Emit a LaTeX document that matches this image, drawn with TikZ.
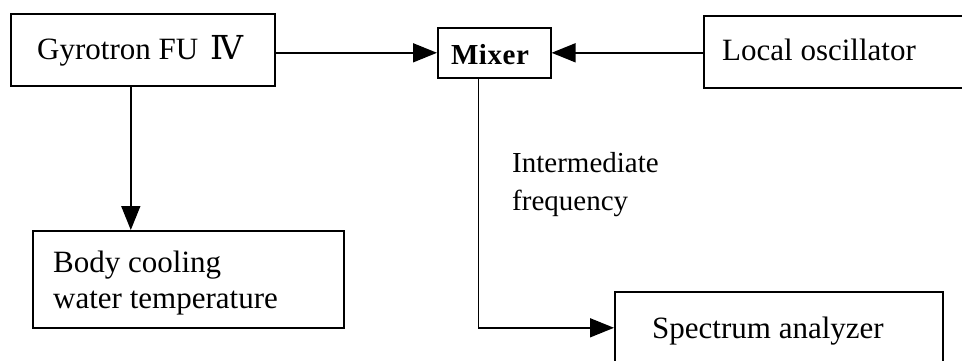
\documentclass[tikz,border=0pt]{standalone}
\usepackage{fontspec}
\setmainfont{Liberation Serif}
\newfontfamily\numeralfont{DejaVu Serif}
\usetikzlibrary{arrows.meta,positioning}

\tikzset{
  blockbox/.style={draw, line width=1.6pt, anchor=north west, inner sep=0pt},
  flow/.style={line width=1.6pt, -{Triangle[length=24pt,width=19pt]}},
  lbl/.style={inner sep=0pt, anchor=base west, font=\fontsize{31}{36}\selectfont},
  iflbl/.style={inner sep=0pt, anchor=base west, font=\fontsize{29}{36}\selectfont}
}

\begin{document}
\begin{tikzpicture}[x=1pt, y=-1pt]
  \useasboundingbox (0,0) rectangle (962,360);

  % blocks (width x height given in pt)
  \node[blockbox, minimum width=264pt, minimum height=72pt] (gyro) at (10,13) {};
  \node[lbl] (gyrotxt) at (37,59)
    {Gyrotron FU\hspace{12pt}{\numeralfont\fontsize{33}{36}\selectfont Ⅳ}};

  \node[blockbox, minimum width=113pt, minimum height=50pt] (mixer) at (437,27) {};
  \node[anchor=base, inner sep=0pt, font=\fontsize{29}{32}\selectfont]
    (mixertxt) at (490,64) {\addfontfeature{LetterSpace=2}\bfseries Mixer};

  \node[blockbox, minimum width=280pt, minimum height=72pt] (lo) at (703,15) {};
  \node[lbl] (lotxt) at (722,60) {Local oscillator};

  \node[blockbox, minimum width=311pt, minimum height=97pt] (body) at (32,230) {};
  \node[lbl] (bodytxt1) at (53,272) {Body cooling};
  \node[lbl] (bodytxt2) at (53,308) {water temperature};

  \node[blockbox, minimum width=328pt, minimum height=70pt] (spec) at (614,291) {};
  \node[lbl] (spectxt) at (652,338) {Spectrum analyzer};

  % signal label beside the mixer output
  \node[iflbl] (iftxt1) at (512,172) {Intermediate};
  \node[iflbl] (iftxt2) at (512,210) {frequency};

  % connectors
  \draw[flow] (gyro.east |- mixer.west) -- (mixer.west);
  \draw[flow] (lo.west |- mixer.east) -- (mixer.east);
  \draw[flow] ([xshift=-12pt]gyro.south) -- ([xshift=-12pt]gyro.south |- body.north);
  \draw[flow] ([xshift=-16pt]mixer.south) |- ([yshift=-1pt]spec.west);
\end{tikzpicture}
\end{document}
